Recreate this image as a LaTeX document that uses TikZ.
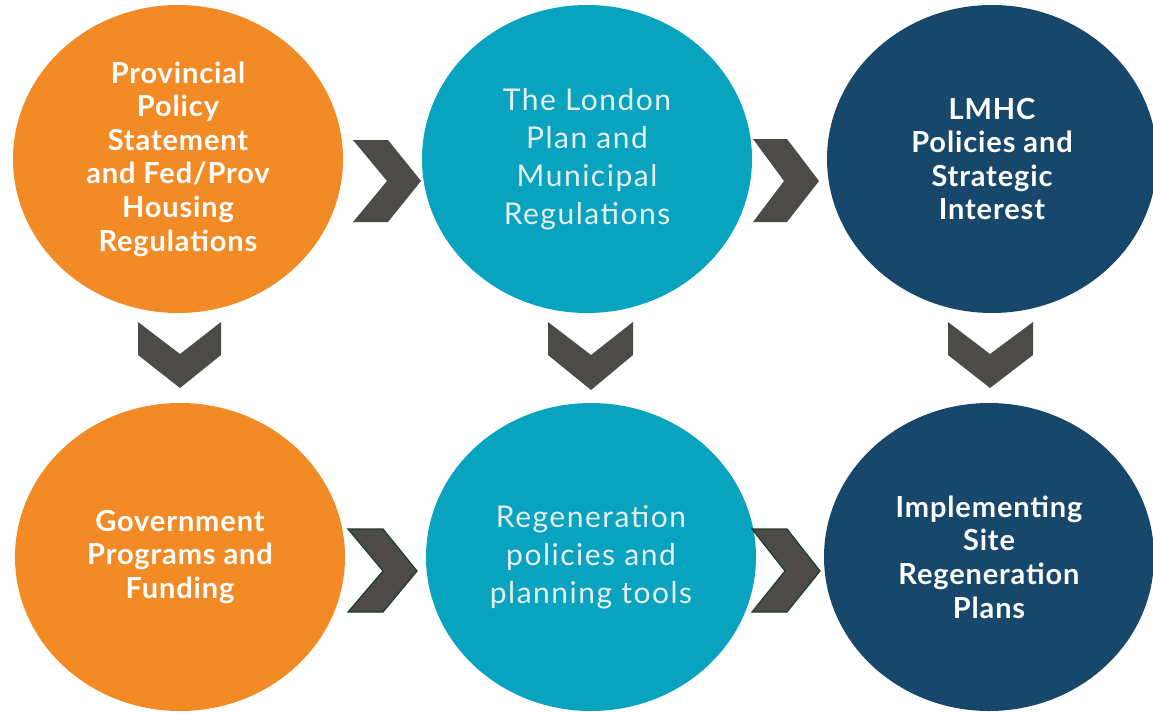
\documentclass[tikz,border=0pt]{standalone}
\usepackage{fontspec}
\setmainfont{Lato}
\newfontfamily\boldfont[LetterSpace=3]{Lato Bold}
\newfontfamily\midfont[LetterSpace=5]{Lato}
\usetikzlibrary{shapes.geometric}
\definecolor{corange}{HTML}{F28A25}
\definecolor{cteal}{HTML}{07A3BF}
\definecolor{cnavy}{HTML}{17476B}
\definecolor{cchev}{HTML}{4D4B48}
\definecolor{cchevline}{HTML}{1E3B2D}
\definecolor{cmidtext}{HTML}{E8EEF0}
\tikzset{
  stage/.style={ellipse, minimum width=330pt, minimum height=308pt, inner sep=0pt, align=center},
  boldstage/.style={stage, text=white, font=\fontsize{29}{33.6}\selectfont\boldfont},
  midstage/.style={stage, text=cmidtext, font=\fontsize{30}{37.8}\selectfont\midfont},
  chevfill/.style={fill=cchev},
  chevline/.style={fill=cchev, draw=cchevline, line width=1.2pt, line join=miter},
}
\begin{document}
\begin{tikzpicture}[x=1pt,y=-1pt]
\useasboundingbox (0,0) rectangle (1153,712);
\node[boldstage, fill=corange] (a) at (178,159) {Provincial\\Policy\\Statement\\and Fed/Prov\\Housing\\Regulations};
\node[midstage, fill=cteal] (b) at (587,159) {The London\\Plan and\\Municipal\\Regulations};
\node[boldstage, fill=cnavy] (c) at (992,159) {LMHC\\Policies and\\Strategic\\Interest};
\node[boldstage, fill=corange] (d) at (180,557) {Government\\Programs and\\Funding};
\node[midstage, fill=cteal] (e) at (591,557) {Regeneration\\policies and\\planning tools};
\node[boldstage, fill=cnavy] (f) at (989,557) {Implementing\\Site\\Regeneration\\Plans};
% right chevrons top row
\fill[chevfill] (353,140) -- (388,140) -- (421,181) -- (388,222) -- (353,222) -- (387,181) -- cycle;
\fill[chevfill] (753,139) -- (787,139) -- (819,181) -- (787,222) -- (753,222) -- (784,181) -- cycle;
% right chevrons bottom row
\filldraw[chevline] (348,529) -- (383,529) -- (417,571) -- (383,612) -- (348,612) -- (383,571) -- cycle;
\filldraw[chevline] (752,529) -- (787,529) -- (820,571) -- (787,612) -- (752,612) -- (785,571) -- cycle;
% down chevrons
\fill[chevfill] (138,322) -- (138,355) -- (180,388) -- (221,355) -- (221,322) -- (180,354) -- cycle;
\fill[chevfill] (548,322) -- (548,355) -- (591,390) -- (633,355) -- (633,322) -- (591,355) -- cycle;
\fill[chevfill] (948,322) -- (948,355) -- (990,388) -- (1033,355) -- (1033,322) -- (990,354) -- cycle;
\end{tikzpicture}
\end{document}
